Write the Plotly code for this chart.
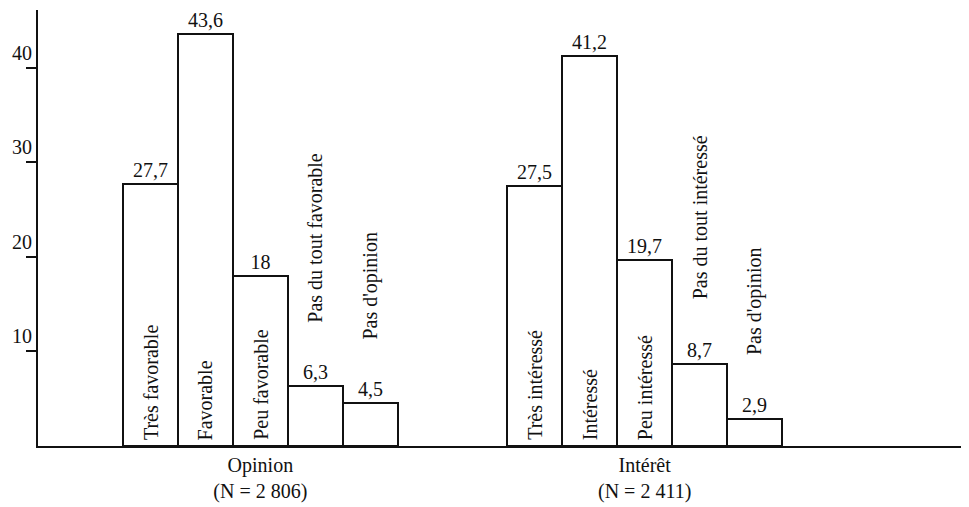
import plotly.graph_objects as go

# Data
opinion_labels = ["Très favorable", "Favorable", "Peu favorable", "Pas du tout favorable", "Pas d'opinion"]
opinion_values = [27.7, 43.6, 18, 6.3, 4.5]
interet_labels = ["Très intéressé", "Intéressé", "Peu intéressé", "Pas du tout intéressé", "Pas d'opinion"]
interet_values = [27.5, 41.2, 19.7, 8.7, 2.9]
group_labels = ["Opinion<br>(N = 2 806)", "Intérêt<br>(N = 2 411)"]
y_ticks = [10, 20, 30, 40]

FONT = "Liberation Serif"
BLACK = "#111111"

opinion_x = [0, 1, 2, 3, 4]
interet_x = [7, 8, 9, 10, 11]
group_x = [2, 9]


def fmt(v):
    return f"{v:g}".replace(".", ",")


fig = go.Figure()
for xs, vals in [(opinion_x, opinion_values), (interet_x, interet_values)]:
    fig.add_trace(go.Bar(
        x=xs, y=vals, width=1,
        marker=dict(color="white", line=dict(color=BLACK, width=2)),
        text=[fmt(v) for v in vals], textposition="outside",
        textfont=dict(family=FONT, size=20, color=BLACK),
        constraintext="none", cliponaxis=False, showlegend=False,
        hoverinfo="skip",
    ))

annotations = []
for xs, vals, labs in [(opinion_x, opinion_values, opinion_labels),
                       (interet_x, interet_values, interet_labels)]:
    for x, v, lab in zip(xs, vals, labs):
        if v >= 15:
            annotations.append(dict(x=x, y=0, text=lab, textangle=-90, showarrow=False,
                                    xanchor="center", yanchor="bottom", yshift=4,
                                    font=dict(family=FONT, size=20, color=BLACK)))
        else:
            annotations.append(dict(x=x, y=v, text=lab, textangle=-90, showarrow=False,
                                    xanchor="center", yanchor="bottom", yshift=62,
                                    font=dict(family=FONT, size=20, color=BLACK)))

fig.update_layout(
    width=969, height=507,
    margin=dict(l=30, r=12, t=2, b=69),
    paper_bgcolor="white", plot_bgcolor="white",
    bargap=0,
    annotations=annotations,
    xaxis=dict(range=[-2.05, 14.835], tickvals=group_x, ticktext=group_labels,
               showline=True, linecolor=BLACK, linewidth=2, ticks="",
               showgrid=False, zeroline=False, automargin=False,
               tickfont=dict(family=FONT, size=20, color=BLACK)),
    yaxis=dict(range=[0, 46.1], tickvals=y_ticks, ticks="outside", ticklen=10,
               tickwidth=2, tickcolor=BLACK, ticklabelposition="outside top",
               showline=True, linecolor=BLACK, linewidth=2,
               showgrid=False, zeroline=False, automargin=False,
               tickfont=dict(family=FONT, size=20, color=BLACK)),
)

fig.write_html("out.html")
